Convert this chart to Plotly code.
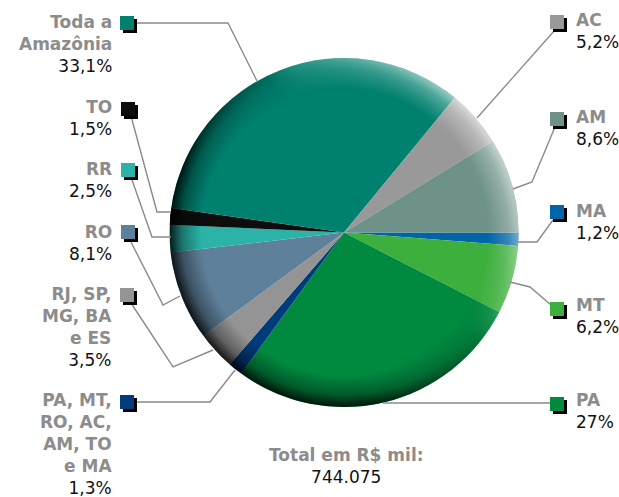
import base64
import plotly.graph_objects as go

# ---------------- data (clockwise from 3 o'clock) ----------------
categories = ["MA", "MT", "PA", "PA, MT,<br>RO, AC,<br>AM, TO<br>e MA",
              "RJ, SP,<br>MG, BA<br>e ES", "RO", "RR", "TO",
              "Toda a<br>Amazônia", "AC", "AM"]
values = [1.2, 6.2, 27, 1.3, 3.5, 8.1, 2.5, 1.5, 33.1, 5.2, 8.6]
colors = ["#0065a8", "#3caf3c", "#008a40", "#003b7a", "#949494", "#5f809a",
          "#2ab3a6", "#0d0d0d", "#00806f", "#999999", "#6e9188"]
total_title = "Total em R$ mil:"
total_value = "744.075"

# ---------------- layout helpers ----------------
W, H = 619, 497
CX, CY, R = 344, 232.5, 174.5


def px(x, y):
    return x / W, 1 - y / H


# label layout per category: side, centre of text block (px), marker top-left, leader path
label_layout = {
    "AM": dict(side="r", yc=128, mk=(550, 112), path=[(555, 127), (532, 182), (513, 189)]),
    "AC": dict(side="r", yc=31, mk=(550, 15), path=[(555, 30), (477, 118)]),
    "Toda a<br>Amazônia": dict(side="l", yc=44, mk=(120, 16), path=[(134, 23), (228, 23), (257, 81)]),
    "TO": dict(side="l", yc=118, mk=(121, 102), path=[(131, 116), (157, 212), (171, 212)]),
    "RR": dict(side="l", yc=180, mk=(121, 163), path=[(131, 177), (152, 237), (171, 237)]),
    "RO": dict(side="l", yc=243, mk=(121, 225), path=[(130, 240), (163, 305), (180, 296)]),
    "RJ, SP,<br>MG, BA<br>e ES": dict(side="l", yc=327, mk=(120, 288),
                                      path=[(131, 303), (173, 367), (213, 350)]),
    "PA, MT,<br>RO, AC,<br>AM, TO<br>e MA": dict(side="l", yc=444, mk=(120, 395),
                                                path=[(133, 402), (210, 402), (235, 370)]),
    "PA": dict(side="r", yc=411, mk=(550, 397), path=[(383, 403), (550, 403)]),
    "MT": dict(side="r", yc=316, mk=(550, 302), path=[(510, 282), (530, 287), (551, 305)]),
    "MA": dict(side="r", yc=222, mk=(550, 205), path=[(518, 242), (537, 242), (553, 220)]),
}

LABEL_GRAY = "#8c8c8c"
LINE_GRAY = "#8a8a8a"
FONT = "DejaVu Sans"
FS = 17

fig = go.Figure()
dx0, dy0 = px(CX - R, CY + R)
dx1, dy1 = px(CX + R, CY - R)
fig.add_trace(go.Pie(
    labels=categories, values=values, sort=False, direction="clockwise",
    rotation=90, marker=dict(colors=colors, line=dict(width=0)),
    textinfo="none", hoverinfo="label+percent", showlegend=False,
    domain=dict(x=[dx0, dx1], y=[dy0, dy1]),
))

shapes = []
annotations = []
MK = 14
PCT_STYLE = "font-weight:normal;color:#111111"
for cat, val, col in zip(categories, values, colors):
    L = label_layout[cat]
    # leader line
    pts = [px(x, y) for x, y in L["path"]]
    d = "M " + " L ".join(f"{x:.5f},{y:.5f}" for x, y in pts)
    shapes.append(dict(type="path", path=d, xref="paper", yref="paper",
                       line=dict(color=LINE_GRAY, width=1.4), layer="above"))
    # marker with shadow
    mx, my = L["mk"]
    for off, c in ((3, "#000000"), (0, col)):
        x0, y0 = px(mx + off, my + off)
        x1, y1 = px(mx + off + MK, my + off + MK)
        shapes.append(dict(type="rect", xref="paper", yref="paper", x0=x0, y0=y1, x1=x1, y1=y0,
                           fillcolor=c, line=dict(width=0), layer="above"))
    # text block: bold grey name + normal black percentage
    pct = f"{val:g}".replace(".", ",") + "%"
    text = "<br>".join(f"<b>{t}</b>" for t in cat.split("<br>"))
    text += f"<br><span style='{PCT_STYLE}'>{pct}</span>"
    if L["side"] == "l":
        ax, xanchor = 114, "right"
    else:
        ax, xanchor = 574, "left"
    x, y = px(ax, L["yc"])
    annotations.append(dict(
        x=x, y=y, xref="paper", yref="paper", xanchor=xanchor, yanchor="middle",
        align="right" if xanchor == "right" else "left",
        text=text, showarrow=False,
        font=dict(family=FONT, size=FS, color=LABEL_GRAY),
    ))

x, y = px(347, 466)
annotations.append(dict(x=x, y=y, xref="paper", yref="paper", xanchor="center", yanchor="middle",
                        text=f"<b>{total_title}</b><br><span style='{PCT_STYLE}'>{total_value}</span>",
                        showarrow=False, align="center",
                        font=dict(family=FONT, size=FS, color=LABEL_GRAY)))

# decorative rim shading (dark at lower-left, light at right)
svg = """<svg xmlns='http://www.w3.org/2000/svg' width='400' height='400' viewBox='0 0 400 400'>
<defs>
<radialGradient id='dk' cx='50%' cy='50%' r='50%'>
<stop offset='0.82' stop-color='#000' stop-opacity='0'/>
<stop offset='0.93' stop-color='#000' stop-opacity='0.35'/>
<stop offset='1' stop-color='#000' stop-opacity='0.85'/>
</radialGradient>
<radialGradient id='lt' cx='50%' cy='50%' r='50%'>
<stop offset='0.82' stop-color='#fff' stop-opacity='0'/>
<stop offset='0.94' stop-color='#fff' stop-opacity='0.35'/>
<stop offset='1' stop-color='#fff' stop-opacity='0.65'/>
</radialGradient>
<linearGradient id='mg1' x1='1' y1='0.1' x2='0' y2='0.9'>
<stop offset='0.35' stop-color='#000'/>
<stop offset='0.7' stop-color='#fff'/>
</linearGradient>
<linearGradient id='mg2' x1='1' y1='0.1' x2='0' y2='0.9'>
<stop offset='0.1' stop-color='#fff'/>
<stop offset='0.42' stop-color='#000'/>
</linearGradient>
<mask id='m1'><rect width='400' height='400' fill='url(#mg1)'/></mask>
<mask id='m2'><rect width='400' height='400' fill='url(#mg2)'/></mask>
</defs>
<circle cx='200' cy='200' r='200' fill='url(#dk)' mask='url(#m1)'/>
<circle cx='200' cy='200' r='200' fill='url(#lt)' mask='url(#m2)'/>
</svg>"""
src = "data:image/svg+xml;base64," + base64.b64encode(svg.encode()).decode()
ix, iy = px(CX - R, CY - R)
fig.add_layout_image(dict(source=src, xref="paper", yref="paper", x=ix, y=iy,
                          sizex=2 * R / W, sizey=2 * R / H, xanchor="left", yanchor="top",
                          sizing="stretch", layer="above"))

fig.update_layout(width=W, height=H, margin=dict(l=0, r=0, t=0, b=0),
                  paper_bgcolor="white", plot_bgcolor="white",
                  shapes=shapes, annotations=annotations)
fig.write_html("out.html", config={"displayModeBar": False},
               post_script="document.body.style.margin='0';")
